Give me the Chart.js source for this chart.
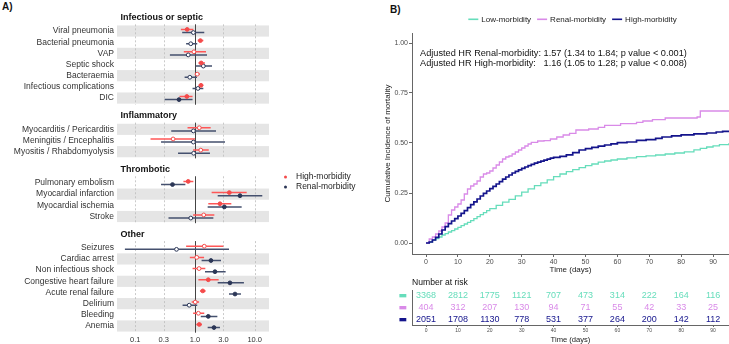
<!DOCTYPE html>
<html>
<head>
<meta charset="utf-8">
<script src="https://cdn.jsdelivr.net/npm/chart.js@4.4.0/dist/chart.umd.min.js"></script>
<style>
  body { margin: 0; background: #fff; width: 729px; height: 344px; position: relative; overflow: hidden; font-family: "Liberation Sans", Arial, sans-serif; }
  canvas { position: absolute; }
  #forest { left: 0; top: 0; }
  #km { left: 370px; top: 0; }
  #risk { left: 370px; top: 276px; }
  .tag { position: absolute; font-weight: bold; font-size: 10px; color: #111; }
</style>
</head>
<body>
<div class="tag" style="left:2px;top:1px">A)</div>
<div class="tag" style="left:390px;top:4px">B)</div>
<canvas id="forest" width="370" height="344"></canvas>
<canvas id="km" width="359" height="276"></canvas>
<canvas id="risk" width="359" height="68"></canvas>
<script>
// ---- panel A data ----
const groups = ['Infectious or septic', 'Inflammatory', 'Thrombotic', 'Other'];
const outcomes = ['Viral pneumonia', 'Bacterial pneumonia', 'VAP', 'Septic shock', 'Bacteraemia',
  'Infectious complications', 'DIC', 'Myocarditis / Pericarditis', 'Meningitis / Encephalitis',
  'Myositis / Rhabdomyolysis', 'Pulmonary embolism', 'Myocardial infarction', 'Myocardial ischemia',
  'Stroke', 'Seizures', 'Cardiac arrest', 'Non infectious shock', 'Congestive heart failure',
  'Acute renal failure', 'Delirium', 'Bleeding', 'Anemia'];
const outcomeGroup = [0, 0, 0, 0, 0, 0, 0, 1, 1, 1, 2, 2, 2, 2, 3, 3, 3, 3, 3, 3, 3, 3];
const seriesNames = ['High-morbidity', 'Renal-morbidity'];

const highHR  = [0.74, 1.23, 0.96, 1.27, 1.09, 1.26, 0.73, 1.18, 0.43, 1.25, 0.77, 3.76, 2.62, 1.40, 1.43, 1.07, 1.17, 1.67, 1.35, 1.01, 1.14, 1.18];
const highLow = [0.58, 1.11, 0.65, 1.14, 0.99, 1.15, 0.55, 0.75, 0.18, 0.93, 0.64, 1.90, 1.67, 0.93, 0.71, 0.82, 0.91, 1.14, 1.21, 0.88, 0.93, 1.05];
const highUp  = [0.94, 1.38, 1.53, 1.47, 1.21, 1.38, 0.91, 1.83, 1.00, 1.70, 0.94, 7.34, 4.06, 2.11, 2.98, 1.42, 1.49, 2.49, 1.51, 1.17, 1.43, 1.31];
const highSig = [1, 1, 0, 1, 0, 1, 1, 0, 0, 0, 1, 1, 1, 0, 0, 0, 0, 1, 1, 0, 0, 1];

const renalHR  = [0.94, 0.85, 0.77, 1.38, 0.82, 1.12, 0.54, 0.94, 0.94, 0.95, 0.42, 5.67, 3.10, 0.85, 0.49, 1.85, 2.16, 3.85, 4.68, 0.80, 1.67, 2.08];
const renalLow = [0.61, 0.71, 0.38, 1.03, 0.67, 0.91, 0.31, 0.40, 0.27, 0.52, 0.27, 2.40, 1.63, 0.36, 0.067, 1.29, 1.47, 2.40, 3.71, 0.62, 1.25, 1.63];
const renalUp  = [1.43, 1.09, 1.59, 1.93, 1.08, 1.38, 0.91, 2.25, 3.18, 1.78, 0.69, 13.4, 6.05, 2.03, 3.71, 2.73, 3.26, 6.60, 5.89, 1.09, 2.37, 2.62];
const renalSig = [0, 0, 0, 0, 0, 0, 1, 0, 0, 0, 1, 1, 1, 0, 0, 1, 1, 1, 1, 0, 1, 1];

const hrTicks = [0.1, 0.3, 1, 3, 10];

// ---- panel B data ----
const lowDays = [0, 1, 2, 3, 4, 5, 6, 7, 8, 9, 10, 11, 12, 13, 14, 15, 16, 17, 18, 19, 20, 22, 24, 26, 28, 30, 32, 34, 36, 38, 40, 42, 44, 46, 48, 50, 52, 54, 56, 58, 60, 63, 66, 69, 72, 75, 78, 81, 84, 86, 88, 90, 92, 95];
const lowCum  = [0, 0.005, 0.015, 0.022, 0.03, 0.04, 0.047, 0.055, 0.062, 0.07, 0.078, 0.087, 0.095, 0.103, 0.112, 0.122, 0.132, 0.142, 0.152, 0.162, 0.172, 0.188, 0.204, 0.218, 0.236, 0.254, 0.271, 0.287, 0.301, 0.316, 0.332, 0.345, 0.357, 0.367, 0.377, 0.387, 0.395, 0.404, 0.41, 0.415, 0.42, 0.426, 0.432, 0.436, 0.44, 0.445, 0.45, 0.456, 0.466, 0.473, 0.48, 0.486, 0.492, 0.5];

const renalDays = [0, 1, 2, 3, 4, 5, 6, 7, 8, 9, 10, 11, 12, 13, 14, 15, 16, 17, 18, 19, 20, 21, 22, 23, 24, 25, 26, 27, 28, 29, 30, 31, 32, 33, 35, 37, 39, 41, 43, 45, 47, 51, 54, 56, 61, 66, 68, 71, 75, 85, 86, 95];
const renalCum  = [0, 0.02, 0.03, 0.045, 0.06, 0.08, 0.1, 0.14, 0.165, 0.18, 0.195, 0.215, 0.245, 0.27, 0.285, 0.295, 0.31, 0.33, 0.345, 0.35, 0.36, 0.375, 0.39, 0.405, 0.42, 0.43, 0.435, 0.445, 0.455, 0.465, 0.475, 0.485, 0.495, 0.503, 0.51, 0.512, 0.52, 0.53, 0.54, 0.548, 0.565, 0.57, 0.578, 0.588, 0.597, 0.603, 0.61, 0.617, 0.625, 0.63, 0.66, 0.66];

const highDays = [0, 1, 2, 3, 4, 5, 6, 7, 8, 9, 10, 11, 12, 13, 14, 15, 16, 17, 18, 19, 20, 21, 22, 23, 24, 25, 26, 27, 28, 29, 30, 31, 32, 33, 34, 35, 36, 37, 38, 39, 40, 42, 44, 46, 48, 50, 52, 54, 56, 58, 60, 63, 66, 69, 72, 74, 77, 80, 84, 88, 91, 93, 95];
const highCum  = [0, 0.005, 0.015, 0.028, 0.045, 0.065, 0.082, 0.097, 0.11, 0.122, 0.135, 0.148, 0.162, 0.177, 0.192, 0.206, 0.22, 0.235, 0.248, 0.26, 0.272, 0.283, 0.295, 0.307, 0.319, 0.33, 0.34, 0.35, 0.358, 0.366, 0.373, 0.38, 0.387, 0.393, 0.399, 0.404, 0.409, 0.414, 0.419, 0.424, 0.428, 0.433, 0.441, 0.452, 0.465, 0.472, 0.478, 0.484, 0.49, 0.496, 0.502, 0.505, 0.513, 0.517, 0.523, 0.53, 0.536, 0.541, 0.546, 0.55, 0.555, 0.558, 0.562];

const kmNames = ['Low-morbidity', 'Renal-morbidity', 'High-morbidity'];
const dayTicks = [0, 10, 20, 30, 40, 50, 60, 70, 80, 90];
const lowAtRisk   = [3368, 2812, 1775, 1121, 707, 473, 314, 222, 164, 116];
const renalAtRisk = [404, 312, 207, 130, 94, 71, 55, 42, 33, 25];
const highAtRisk  = [2051, 1708, 1130, 778, 531, 377, 264, 200, 142, 112];
const hrLabels = ['Adjusted HR Renal-morbidity:', 'Adjusted HR High-morbidity:'];
const hrTexts  = ['1.57 (1.34 to 1.84; p value < 0.001)', '1.16 (1.05 to 1.28; p value < 0.008)'];

// ---- styles ----
const RED = '#F44B4B', SLATE = '#2B3656';
const RED_CI = '#FF5757', SLATE_CI = '#44506E';
const GREEN = '#66DDBB', PURPLE = '#D98AE8', NAVY = '#14148C';
const FONT = '"Liberation Sans", Arial, sans-serif';
Chart.defaults.font.family = FONT;
Chart.defaults.color = '#333';

// row layout for panel A (facets with a gap for the strip)
const GAP = 2.8, DODGE = 0.14;
const rowPos = [];
outcomes.forEach((o, i) => {
  if (i === 0) rowPos.push(0);
  else rowPos.push(rowPos[i - 1] + (outcomeGroup[i] !== outcomeGroup[i - 1] ? GAP : 1));
});
const groupFirst = groups.map((g, gi) => outcomeGroup.indexOf(gi));
const groupLast = groups.map((g, gi) => outcomeGroup.lastIndexOf(gi));

function points(vals, dy) {
  return vals.map((v, i) => ({ x: v, y: rowPos[i] + dy }));
}
function bars(lo, up, dy) {
  const d = [];
  lo.forEach((l, i) => {
    d.push({ x: l, y: rowPos[i] + dy }, { x: up[i], y: rowPos[i] + dy }, { x: null, y: null });
  });
  return d;
}

const forestPanels = {
  id: 'forestPanels',
  beforeDatasetsDraw(chart) {
    const { ctx, chartArea: a, scales: { x, y } } = chart;
    ctx.save();
    ctx.fillStyle = '#E5E5E5';
    rowPos.forEach((p, i) => {
      if ((groupLast[outcomeGroup[i]] - i) % 2 === 0) {
        const t = y.getPixelForValue(p - 0.5), b = y.getPixelForValue(p + 0.5);
        ctx.fillRect(a.left, t, a.right - a.left, b - t);
      }
    });
    groups.forEach((g, gi) => {
      const top = y.getPixelForValue(rowPos[groupFirst[gi]] - 0.6);
      const bot = y.getPixelForValue(rowPos[groupLast[gi]] + 0.6);
      hrTicks.forEach(v => {
        const px = Math.round(x.getPixelForValue(v)) + 0.5;
        ctx.beginPath();
        if (v === 1) { ctx.setLineDash([]); ctx.strokeStyle = '#444'; ctx.lineWidth = 1; }
        else { ctx.setLineDash([2, 2]); ctx.strokeStyle = '#BDBDBD'; ctx.lineWidth = 0.8; }
        ctx.moveTo(px, top);
        ctx.lineTo(px, bot);
        ctx.stroke();
      });
      ctx.setLineDash([]);
      ctx.fillStyle = '#111';
      ctx.font = 'bold 9px ' + FONT;
      ctx.textBaseline = 'middle';
      ctx.textAlign = 'left';
      ctx.fillText(g, a.left + 3.5, top - 7);
    });
    ctx.restore();
  },
  afterDraw(chart) {
    const { ctx, chartArea: a } = chart;
    ctx.save();
    ctx.font = '8.5px ' + FONT;
    ctx.textBaseline = 'middle';
    [RED, SLATE].forEach((c, i) => {
      const yy = 177 + i * 10;
      ctx.fillStyle = c;
      ctx.beginPath();
      ctx.arc(a.right + 16.5, yy, 1.5, 0, 2 * Math.PI);
      ctx.fill();
      ctx.fillStyle = '#222';
      ctx.fillText(seriesNames[i], a.right + 27, yy);
    });
    ctx.restore();
  }
};

new Chart(document.getElementById('forest'), {
  type: 'scatter',
  data: {
    datasets: [
      { label: seriesNames[0], data: points(highHR, -DODGE), pointRadius: 1.9, pointBorderWidth: 1,
        pointBackgroundColor: highSig.map(s => s ? RED : '#fff'), pointBorderColor: RED },
      { label: seriesNames[1], data: points(renalHR, DODGE), pointRadius: 1.9, pointBorderWidth: 1,
        pointBackgroundColor: renalSig.map(s => s ? SLATE : '#fff'), pointBorderColor: SLATE },
      { label: 'ci-high', data: bars(highLow, highUp, -DODGE), showLine: true, borderColor: RED_CI, borderWidth: 1.5, pointRadius: 0 },
      { label: 'ci-renal', data: bars(renalLow, renalUp, DODGE), showLine: true, borderColor: SLATE_CI, borderWidth: 1.5, pointRadius: 0 }
    ]
  },
  options: {
    responsive: false, animation: false, events: [],
    layout: { padding: { top: 24.3, right: 101, left: 0, bottom: 0 } },
    plugins: { legend: { display: false }, tooltip: { enabled: false } },
    scales: {
      x: {
        type: 'logarithmic', min: 0.0494, max: 17.36,
        afterBuildTicks: s => { s.ticks = hrTicks.map(v => ({ value: v })); },
        afterFit: s => { s.height = 11.3; },
        ticks: { callback: v => Number(v).toFixed(1), font: { size: 7.5 }, color: '#333', padding: 3, maxRotation: 0, autoSkip: false },
        grid: { display: false, drawTicks: false }, border: { display: false }
      },
      y: {
        type: 'linear', reverse: true, min: -0.6, max: rowPos[rowPos.length - 1] + 0.6,
        afterBuildTicks: s => { s.ticks = rowPos.map(v => ({ value: v })); },
        afterFit: s => { s.width = 117; },
        ticks: { callback: (v, i) => outcomes[i], font: { size: 8.5 }, color: '#333', padding: 3, autoSkip: false },
        grid: { display: false, drawTicks: false }, border: { display: false }
      }
    }
  },
  plugins: [forestPanels]
});

// ---- panel B: cumulative incidence ----
const kmText = {
  id: 'kmText',
  afterDraw(chart) {
    const { ctx, chartArea: a, scales: { y } } = chart;
    ctx.save();
    // legend
    ctx.font = '8px ' + FONT;
    ctx.textBaseline = 'middle';
    const colors = [GREEN, PURPLE, NAVY];
    const widths = kmNames.map(n => 13 + ctx.measureText(n).width);
    const total = widths.reduce((s, w) => s + w, 0) + 6 * (kmNames.length - 1);
    let lx = (a.left + a.right) / 2 - total / 2 + 2;
    kmNames.forEach((n, i) => {
      ctx.fillStyle = colors[i];
      ctx.fillRect(lx, 18.5, 10, 1.6);
      ctx.fillStyle = '#222';
      ctx.fillText(n, lx + 13, 19.5);
      lx += widths[i] + 6;
    });
    // hazard ratio annotation
    ctx.font = '9.2px ' + FONT;
    ctx.fillStyle = '#111';
    const x0 = a.left + 8;
    const valueX = x0 + ctx.measureText(hrLabels[0] + ' ').width;
    [0.95, 0.8975].forEach((v, i) => {
      const yy = y.getPixelForValue(v);
      ctx.fillText(hrLabels[i], x0, yy);
      ctx.fillText(hrTexts[i], valueX, yy);
    });
    ctx.restore();
  }
};

function kmSeries(days, cum) {
  return days.map((d, i) => ({ x: d, y: cum[i] }));
}

new Chart(document.getElementById('km'), {
  type: 'line',
  data: {
    datasets: [
      { label: kmNames[0], data: kmSeries(lowDays, lowCum), borderColor: GREEN, borderWidth: 1.3, stepped: 'before', pointRadius: 0, order: 2 },
      { label: kmNames[1], data: kmSeries(renalDays, renalCum), borderColor: PURPLE, borderWidth: 1.3, stepped: 'before', pointRadius: 0, order: 1 },
      { label: kmNames[2], data: kmSeries(highDays, highCum), borderColor: NAVY, borderWidth: 1.7, stepped: 'before', pointRadius: 0, order: 0 }
    ]
  },
  options: {
    responsive: false, animation: false, events: [],
    layout: { padding: { top: 33, left: 0, right: 0, bottom: 0 } },
    plugins: { legend: { display: false }, tooltip: { enabled: false } },
    scales: {
      x: {
        type: 'linear', min: -4.4, max: 95,
        afterBuildTicks: s => { s.ticks = dayTicks.map(v => ({ value: v })); },
        afterFit: s => { s.height = 22; },
        ticks: { font: { size: 7 }, color: '#4d4d4d', padding: 1, maxRotation: 0, autoSkip: false },
        grid: { drawOnChartArea: false, tickLength: 3, color: '#666' }, border: { color: '#666' },
        title: { display: true, text: 'Time (days)', font: { size: 8 }, color: '#222', padding: { top: 0, bottom: 1 } }
      },
      y: {
        type: 'linear', min: -0.055, max: 1.05,
        afterBuildTicks: s => { s.ticks = [0, 0.25, 0.5, 0.75, 1].map(v => ({ value: v })); },
        afterFit: s => { s.width = 42; },
        ticks: { callback: v => Number(v).toFixed(2), font: { size: 7 }, color: '#4d4d4d', padding: 1 },
        grid: { drawOnChartArea: false, tickLength: 3, color: '#666' }, border: { color: '#666' },
        title: { display: true, text: 'Cumulative Incidence of mortality', font: { size: 8 }, color: '#222', padding: { top: 13, bottom: 0 } }
      }
    }
  },
  plugins: [kmText]
});

// ---- panel B: number at risk ----
const riskRows = [lowAtRisk, renalAtRisk, highAtRisk];
const riskColors = [GREEN, PURPLE, NAVY];
const riskText = {
  id: 'riskText',
  afterDatasetsDraw(chart) {
    const { ctx, chartArea: a } = chart;
    ctx.save();
    ctx.font = '8.6px ' + FONT;
    ctx.fillStyle = '#111';
    ctx.textBaseline = 'middle';
    ctx.textAlign = 'left';
    ctx.fillText('Number at risk', a.left, 7);
    ctx.font = '9px ' + FONT;
    ctx.textAlign = 'center';
    riskRows.forEach((row, r) => {
      ctx.fillStyle = riskColors[r];
      chart.getDatasetMeta(r).data.forEach((pt, j) => {
        ctx.fillText(String(row[j]), pt.x, pt.y);
      });
    });
    ctx.restore();
  }
};

new Chart(document.getElementById('risk'), {
  type: 'scatter',
  data: {
    datasets: riskRows.map((row, r) => ({
      label: kmNames[r], data: dayTicks.map(d => ({ x: d, y: r })), pointRadius: 0
    }))
  },
  options: {
    responsive: false, animation: false, events: [],
    layout: { padding: { top: 14, left: 0, right: 0, bottom: 0 } },
    plugins: { legend: { display: false }, tooltip: { enabled: false } },
    scales: {
      x: {
        type: 'linear', min: -4.4, max: 95,
        afterBuildTicks: s => { s.ticks = dayTicks.map(v => ({ value: v })); },
        afterFit: s => { s.height = 19; },
        ticks: { font: { size: 5 }, color: '#4d4d4d', padding: 1, maxRotation: 0, autoSkip: false },
        grid: { drawOnChartArea: false, tickLength: 2, color: '#666' }, border: { color: '#666' },
        title: { display: true, text: 'Time (days)', font: { size: 7.6 }, color: '#222', padding: { top: 0, bottom: 0 } }
      },
      y: {
        type: 'linear', reverse: true, min: -0.5, max: 2.5,
        afterBuildTicks: s => { s.ticks = [0, 1, 2].map(v => ({ value: v })); },
        afterFit: s => { s.width = 42; },
        ticks: { callback: () => '\u25AC', font: { size: 9, family: '"DejaVu Sans"' }, color: c => riskColors[c.index], padding: 5, autoSkip: false },
        grid: { display: false, drawTicks: false }, border: { color: '#666' }
      }
    }
  },
  plugins: [riskText]
});
</script>
</body>
</html>
